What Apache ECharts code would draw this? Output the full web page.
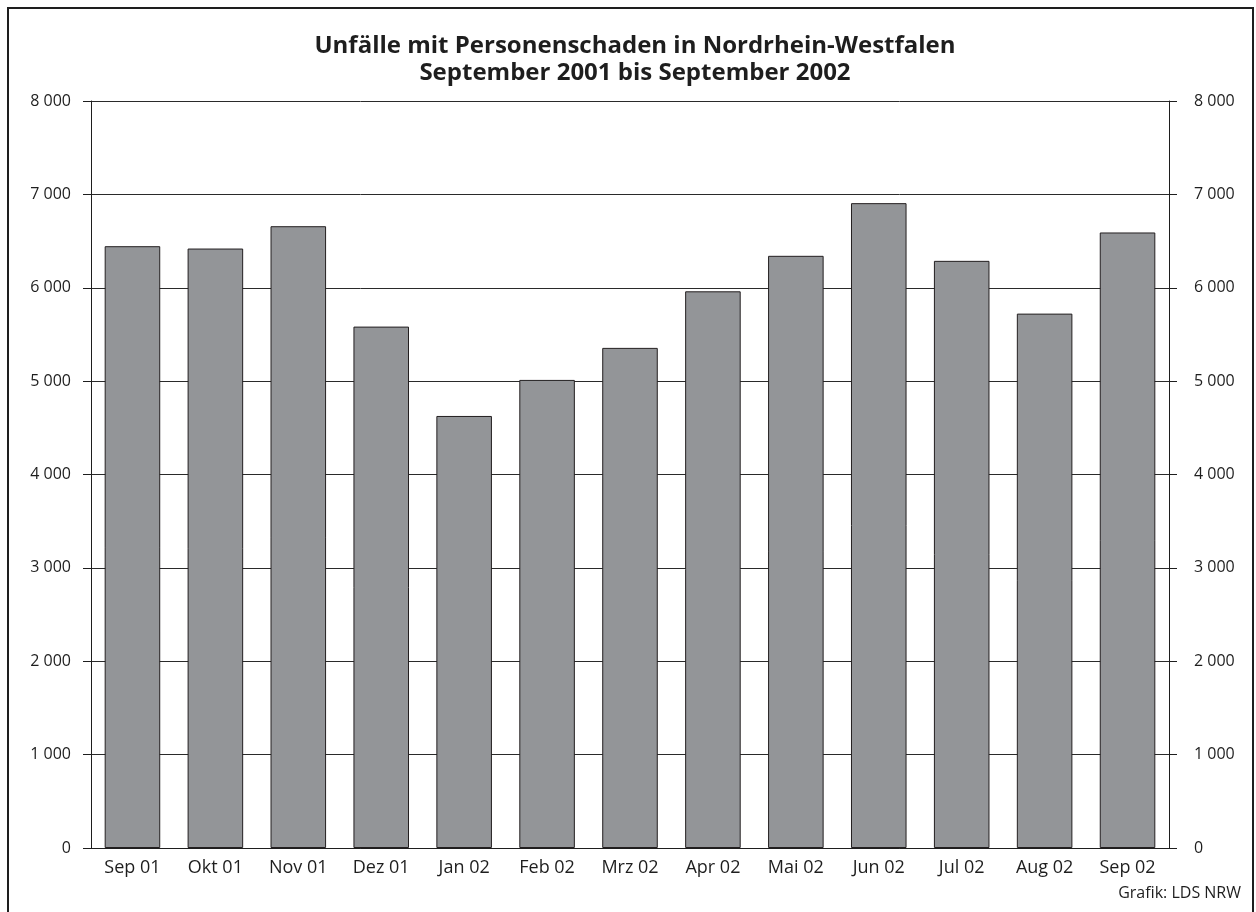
<!DOCTYPE html>
<html>
<head>
<meta charset="utf-8">
<script src="https://cdn.jsdelivr.net/npm/echarts@6/dist/echarts.min.js"></script>
<style>
  html, body { margin: 0; padding: 0; background: #fff; }
  #chart { width: 1256px; height: 912px; }
</style>
</head>
<body>
<div id="chart"></div>
<script>
// Unfälle mit Personenschaden, NRW
var months = ['Sep 01', 'Okt 01', 'Nov 01', 'Dez 01', 'Jan 02', 'Feb 02', 'Mrz 02',
              'Apr 02', 'Mai 02', 'Jun 02', 'Jul 02', 'Aug 02', 'Sep 02'];
var accidents = [6445, 6420, 6659, 5584, 4627, 5013, 5356, 5962, 6342, 6906, 6288, 5723, 6592];
var yTicks = [0, 1000, 2000, 3000, 4000, 5000, 6000, 7000, 8000];

(function(){
    var myChart = echarts.init(document.getElementById('chart'));
    var ink = '#1e1e1e';
    var fmt = function (v) {
        return String(v).replace(/\B(?=(\d{3})+(?!\d))/g, ' ');
    };
    var yAxisBase = function (pos, margin) {
        return {
            type: 'value',
            position: pos,
            min: yTicks[0],
            max: yTicks[yTicks.length - 1],
            interval: 1000,
            axisLine: { show: true, lineStyle: { color: ink, width: 1 } },
            axisTick: { show: true, inside: false, length: 8, lineStyle: { color: ink, width: 1 } },
            axisLabel: { color: ink, fontSize: 16, fontFamily: 'Open Sans', margin: margin, formatter: fmt },
            splitLine: { show: pos === 'left', lineStyle: { color: '#2a2a2a', width: 1 } }
        };
    };
    var option = {
        animation: false,
        title: {
            text: 'Unfälle mit Personenschaden in Nordrhein-Westfalen\nSeptember 2001 bis September 2002',
            left: 630,
            textAlign: 'center',
            top: 28,
            textStyle: {
                color: ink,
                fontSize: 24,
                fontWeight: 'bold',
                fontFamily: 'Open Sans',
                lineHeight: 27
            }
        },
        grid: { left: 91, right: 87, top: 101, bottom: 64 },
        xAxis: {
            type: 'category',
            data: months,
            axisLine: { show: true, lineStyle: { color: ink, width: 1 } },
            axisTick: { show: false },
            axisLabel: { color: ink, fontSize: 18, fontFamily: 'Open Sans', margin: 11 }
        },
        yAxis: [yAxisBase('left', 20), yAxisBase('right', 25)],
        series: [{
            type: 'bar',
            data: accidents,
            barCategoryGap: '33%',
            itemStyle: { color: '#939598', borderColor: '#231f20', borderWidth: 1 }
        }],
        graphic: [
            {
                type: 'rect',
                shape: { x: 8, y: 8, width: 1245, height: 930 },
                style: { fill: 'none', stroke: ink, lineWidth: 2 }
            },
            {
                type: 'text',
                right: 15,
                top: 885,
                style: { text: 'Grafik: LDS NRW', fill: ink, font: '16px "Open Sans"' }
            }
        ]
    };
    myChart.setOption(option);
    window.addEventListener('resize', function(){
        myChart.resize();
    });
})();
</script>
</body>
</html>
